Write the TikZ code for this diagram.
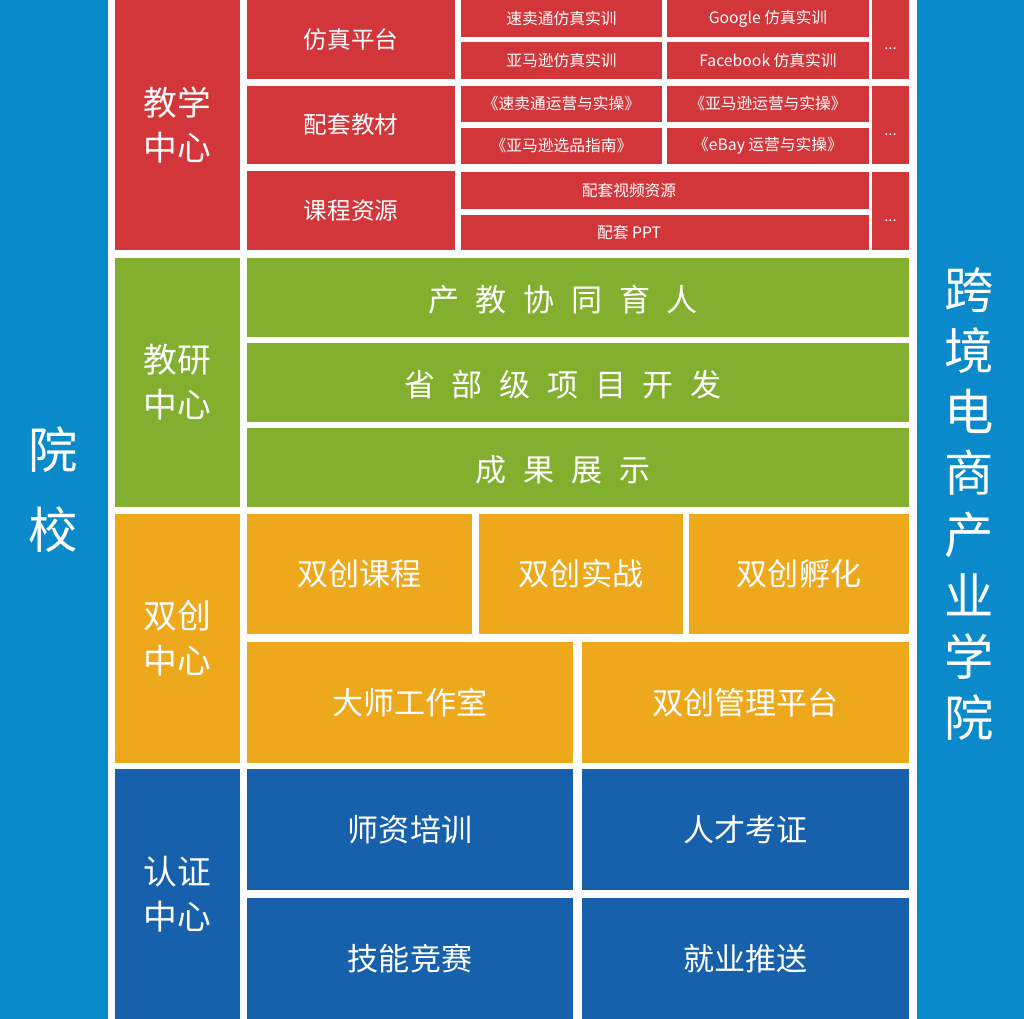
\documentclass[tikz,border=0pt]{standalone}
\usepackage{fontspec}
\setmainfont{Noto Sans CJK SC}
\definecolor{cred}{RGB}{211,54,58}
\definecolor{cgreen}{RGB}{130,176,46}
\definecolor{corange}{RGB}{237,168,28}
\definecolor{cblue}{RGB}{22,96,172}
\definecolor{cside}{RGB}{10,137,203}
\newcommand\gsp{\hspace{12.5pt}}
\newcommand\mkcell[7]{%
  \pgfmathsetmacro\cx{(#3+#5)/2}\pgfmathsetmacro\cy{(#4+#6)/2}%
  \pgfmathsetmacro\cw{(#5-#3)*0.75}\pgfmathsetmacro\ch{(#6-#4)*0.75}%
  \node[cell,#1,minimum width=\cw pt,minimum height=\ch pt] (#2) at (\cx,\cy) {#7};}
\tikzset{
  cell/.style={rectangle,inner sep=0pt,outer sep=0pt,text=white,align=center},
  red/.style={fill=cred},
  green/.style={fill=cgreen},
  orange/.style={fill=corange},
  blue/.style={fill=cblue},
  side/.style={fill=cside},
  sidefont/.style={font=\fontsize{37}{45.9}\selectfont},
  headfont/.style={font=\fontsize{25.3}{33.75}\selectfont},
  midfont/.style={font=\fontsize{17.7}{22}\selectfont},
  bigfont/.style={font=\fontsize{23.3}{28}\selectfont},
  greenfont/.style={font=\fontsize{23.3}{28}\selectfont},
  smallfont/.style={font=\fontsize{11.8}{14}\selectfont},
  dotfont/.style={font=\fontsize{11}{12}\selectfont},
  lbl/.style={inner sep=0pt,text=white,align=center}
}
\begin{document}
\begin{tikzpicture}[x=0.75pt,y=-0.75pt]
\useasboundingbox[fill=white] (0,0) rectangle (1024,1019);
% side bars
\mkcell{side}{leftbar}{0}{0}{108}{1019}{}
\mkcell{side}{rightbar}{917}{0}{1024}{1019}{}
\node[lbl,sidefont] (lefttxt) at (53,490) {院\\[14.1pt]校};
\node[lbl,sidefont] (righttxt) at (969,504) {跨\\境\\电\\商\\产\\业\\学\\院};
% teaching center
\mkcell{red,headfont}{teach}{115}{0}{240}{250}{教学\\中心}
\mkcell{red,midfont}{sim}{247}{0}{455}{79}{仿真平台}
\mkcell{red,midfont}{book}{247}{86}{455}{164}{配套教材}
\mkcell{red,midfont}{res}{247}{171}{455}{250}{课程资源}
\mkcell{red,smallfont}{s1}{461}{0}{662}{37}{速卖通仿真实训}
\mkcell{red,smallfont}{s2}{667}{0}{869}{37}{Google 仿真实训}
\mkcell{red,smallfont}{s3}{461}{42}{662}{79}{亚马逊仿真实训}
\mkcell{red,smallfont}{s4}{667}{42}{869}{79}{Facebook 仿真实训}
\mkcell{red,smallfont}{b1}{461}{86}{662}{122}{《速卖通运营与实操》}
\mkcell{red,smallfont}{b2}{667}{86}{869}{122}{《亚马逊运营与实操》}
\mkcell{red,smallfont}{b3}{461}{128}{662}{164}{《亚马逊选品指南》}
\mkcell{red,smallfont}{b4}{667}{128}{869}{164}{《eBay 运营与实操》}
\mkcell{red}{r1}{461}{172}{869}{209}{}
\mkcell{red}{r2}{461}{215}{869}{250}{}
\node[lbl,smallfont] (r1t) at (629,190.5) {配套视频资源};
\node[lbl,smallfont] (r2t) at (629,232.5) {配套 PPT};
\mkcell{red}{d1}{872}{0}{909}{79}{}
\mkcell{red}{d2}{872}{86}{909}{164}{}
\mkcell{red}{d3}{872}{172}{909}{250}{}
\node[lbl,dotfont] (d1t) at (890.5,49) {...};
\node[lbl,dotfont] (d2t) at (890.5,135) {...};
\node[lbl,dotfont] (d3t) at (890.5,221) {...};
% research center
\mkcell{green,headfont}{research}{115}{258}{240}{507}{教研\\中心}
\mkcell{green}{g1}{247}{258}{909}{337}{}
\mkcell{green}{g2}{247}{343}{909}{422}{}
\mkcell{green}{g3}{247}{428}{909}{507}{}
\node[lbl,greenfont] (g1t) at (563,300) {产\gsp{}教\gsp{}协\gsp{}同\gsp{}育\gsp{}人};
\node[lbl,greenfont] (g2t) at (563,385) {省\gsp{}部\gsp{}级\gsp{}项\gsp{}目\gsp{}开\gsp{}发};
\node[lbl,greenfont] (g3t) at (563,470) {成\gsp{}果\gsp{}展\gsp{}示};
% innovation center
\mkcell{orange,headfont}{innov}{115}{514}{240}{763}{双创\\中心}
\mkcell{orange,bigfont}{o1}{247}{514}{472}{634}{双创课程}
\mkcell{orange,bigfont}{o2}{479}{514}{683}{634}{双创实战}
\mkcell{orange,bigfont}{o3}{689}{514}{909}{634}{双创孵化}
\mkcell{orange,bigfont}{o4}{247}{642}{573}{763}{大师工作室}
\mkcell{orange,bigfont}{o5}{582}{642}{909}{763}{双创管理平台}
% certification center
\mkcell{blue,headfont}{cert}{115}{769}{240}{1019}{认证\\中心}
\mkcell{blue,bigfont}{c1}{247}{769}{573}{890}{师资培训}
\mkcell{blue,bigfont}{c2}{582}{769}{909}{890}{人才考证}
\mkcell{blue,bigfont}{c3}{247}{898}{573}{1019}{技能竞赛}
\mkcell{blue,bigfont}{c4}{582}{898}{909}{1019}{就业推送}
\end{tikzpicture}
\end{document}
